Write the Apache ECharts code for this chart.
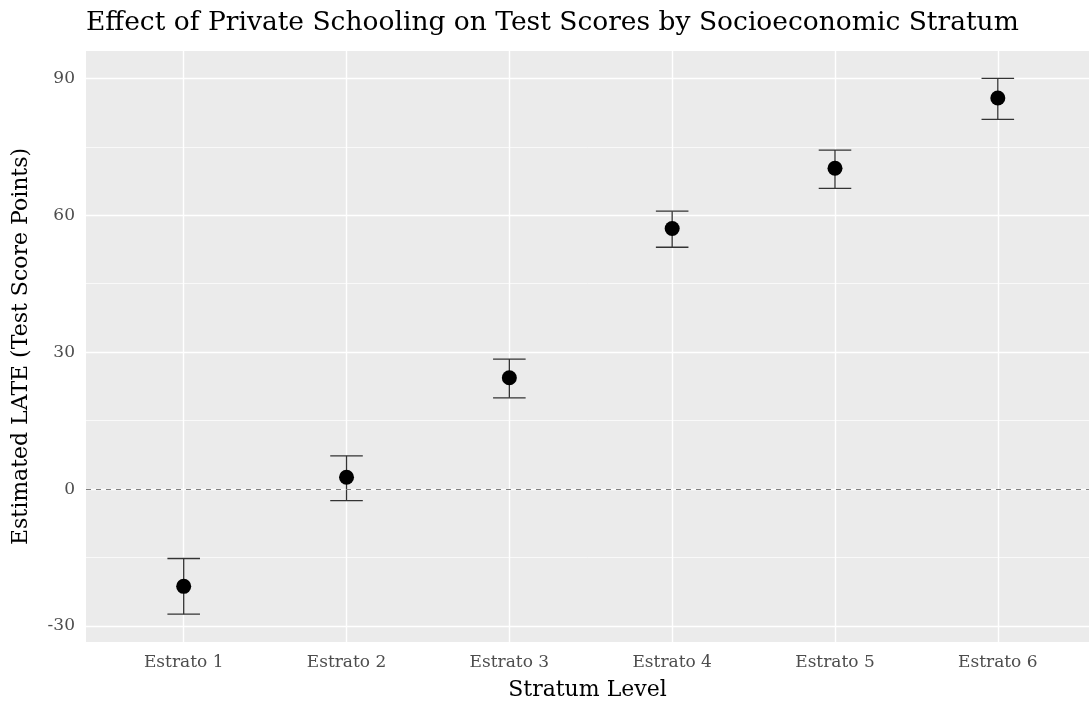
<!DOCTYPE html>
<html>
<head>
<meta charset="utf-8">
<script src="https://cdn.jsdelivr.net/npm/echarts@6/dist/echarts.min.js"></script>
<style>
html,body{margin:0;padding:0;background:#fff;}
#c{width:1089px;height:704px;}
</style>
</head>
<body>
<div id="c"></div>
<script>
const categories = ['Estrato 1','Estrato 2','Estrato 3','Estrato 4','Estrato 5','Estrato 6'];
const estimates  = [-21.3, 2.6, 24.4, 57.1, 70.3, 85.7];
const ciLower    = [-27.4, -2.5, 20.0, 53.0, 65.9, 81.0];
const ciUpper    = [-15.2, 7.3, 28.5, 60.9, 74.3, 90.0];
const yMajorTicks = [-30, 0, 30, 60, 90];
const yMinorTicks = [-15, 15, 45, 75];

const FONT = '"DejaVu Serif", serif';
const chart = echarts.init(document.getElementById('c'));

const pointData = estimates.map((v, i) => [i + 1, v]);
const errData = categories.map((c, i) => [i + 1, ciLower[i], ciUpper[i]]);
const xPositions = categories.map((c, i) => i + 1);

const option = {
  backgroundColor: '#ffffff',
  animation: false,
  title: {
    text: 'Effect of Private Schooling on Test Scores by Socioeconomic Stratum',
    left: 86, top: 10, padding: 0,
    textStyle: { fontFamily: FONT, fontSize: 26.5, fontWeight: 'normal', color: '#000' }
  },
  grid: {
    left: 86, right: 0, top: 51, bottom: 62,
    outerBoundsMode: 'none', containLabel: false,
    show: true, backgroundColor: '#ebebeb', borderWidth: 0
  },
  xAxis: {
    type: 'value', min: 0.4, max: 6.56,
    name: 'Stratum Level', nameLocation: 'middle', nameGap: 37,
    nameTextStyle: { fontFamily: FONT, fontSize: 22, color: '#000' },
    axisLine: { show: false },
    axisTick: { show: false, customValues: xPositions },
    axisLabel: {
      customValues: xPositions, margin: 12,
      fontFamily: FONT, fontSize: 17, color: '#4d4d4d',
      formatter: v => categories[Math.round(v) - 1]
    },
    splitLine: { show: true, lineStyle: { color: '#ffffff', width: 1.4 } }
  },
  yAxis: [{
    type: 'value', min: -33.5, max: 96,
    name: 'Estimated LATE (Test Score Points)', nameLocation: 'middle', nameGap: 54,
    nameTextStyle: { fontFamily: FONT, fontSize: 22, color: '#000' },
    axisLine: { show: false },
    axisTick: { show: false, customValues: yMajorTicks },
    axisLabel: {
      customValues: yMajorTicks, margin: 11,
      fontFamily: FONT, fontSize: 17, color: '#4d4d4d'
    },
    splitLine: { show: true, lineStyle: { color: '#ffffff', width: 1.4 } }
  }, {
    type: 'value', min: -33.5, max: 96, position: 'left',
    axisLine: { show: false },
    axisTick: { show: false, customValues: yMinorTicks },
    axisLabel: { show: false, customValues: yMinorTicks },
    splitLine: { show: true, lineStyle: { color: '#ffffff', width: 0.7 } }
  }],
  series: [{
    type: 'custom',
    yAxisIndex: 0,
    data: errData,
    z: 3,
    renderItem: function (params, api) {
      const x = api.value(0);
      const lo = api.coord([x, api.value(1)]);
      const hi = api.coord([x, api.value(2)]);
      const half = (api.coord([x + 0.1, 0])[0] - api.coord([x, 0])[0]);
      const style = { stroke: '#333333', lineWidth: 1.3, fill: null };
      return {
        type: 'group',
        children: [
          { type: 'line', shape: { x1: lo[0], y1: lo[1], x2: hi[0], y2: hi[1] }, style },
          { type: 'line', shape: { x1: hi[0] - half, y1: hi[1], x2: hi[0] + half, y2: hi[1] }, style },
          { type: 'line', shape: { x1: lo[0] - half, y1: lo[1], x2: lo[0] + half, y2: lo[1] }, style }
        ]
      };
    }
  }, {
    type: 'scatter',
    yAxisIndex: 0,
    data: pointData,
    symbol: 'circle',
    symbolSize: 15,
    itemStyle: { color: '#000000', opacity: 1 },
    z: 4,
    markLine: {
      silent: true, symbol: 'none', label: { show: false },
      lineStyle: { color: '#7f7f7f', type: [5, 5], width: 1 },
      data: [{ yAxis: 0 }]
    }
  }]
};
chart.setOption(option);
</script>
</body>
</html>
